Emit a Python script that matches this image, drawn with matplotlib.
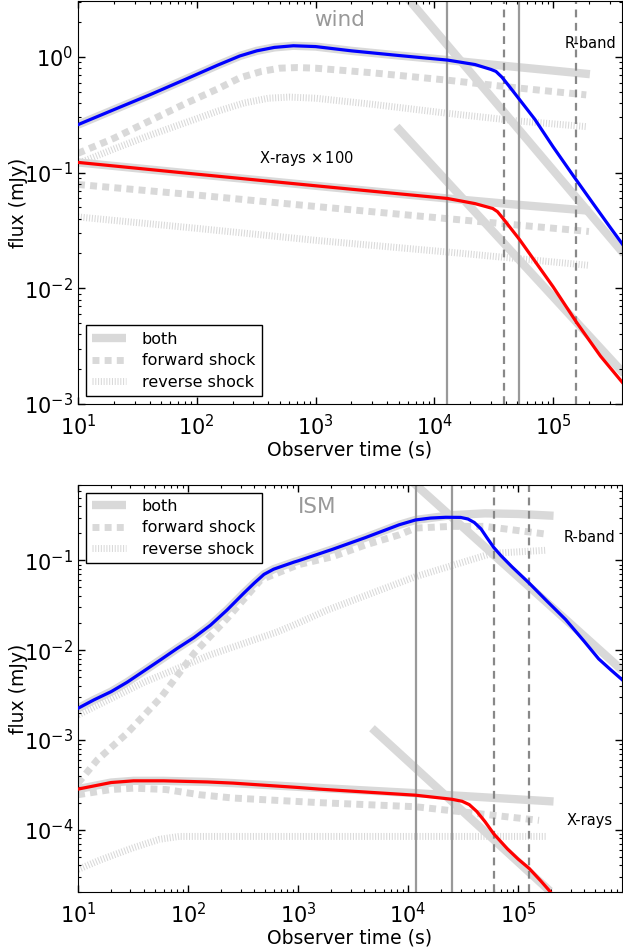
import matplotlib
matplotlib.use('Agg')
import matplotlib.pyplot as plt
from matplotlib.lines import Line2D

# ---------------- wind medium (top panel) ----------------
# R-band, full light curve
t_wind_R = [10, 20, 40, 80, 150, 230, 320, 450, 650, 1000, 2000, 5000, 1.29e4,
            2.2e4, 3.0e4, 3.3e4, 3.7e4, 4.2e4, 5.2e4, 7e4, 1e5, 1.5e5, 2.2e5, 3e5, 3.9e5]
f_wind_R = [0.26, 0.35, 0.47, 0.64, 0.85, 1.02, 1.13, 1.21, 1.25, 1.23, 1.13, 1.03, 0.94,
            0.86, 0.78, 0.75, 0.67, 0.57, 0.43, 0.29, 0.167, 0.092, 0.053, 0.034, 0.0235]
# "both" without the break (continued), and the late asymptote
t_wind_R_both = [10, 20, 40, 80, 150, 230, 320, 450, 650, 1000, 2000, 5000, 1.29e4, 3e4, 8e4, 2.04e5]
f_wind_R_both = [0.26, 0.35, 0.47, 0.64, 0.85, 1.02, 1.13, 1.21, 1.25, 1.23, 1.13, 1.03, 0.94, 0.86, 0.78, 0.71]
t_wind_R_late = [6.0e3, 4.0e5]
f_wind_R_late = [3.2, 0.0195]
t_wind_R_fs = [10, 20, 40, 80, 150, 230, 350, 500, 700, 1000, 3000, 1.29e4, 5e4, 1.9e5]
f_wind_R_fs = [0.147, 0.198, 0.28, 0.395, 0.53, 0.66, 0.75, 0.80, 0.81, 0.80, 0.73, 0.63, 0.54, 0.47]
t_wind_R_rs = [10, 20, 40, 80, 150, 250, 400, 600, 1000, 3000, 1.29e4, 5e4, 1.9e5]
f_wind_R_rs = [0.12, 0.16, 0.21, 0.27, 0.34, 0.40, 0.44, 0.45, 0.44, 0.39, 0.326, 0.28, 0.25]

# X-rays (x100)
t_wind_X = [10, 100, 1000, 1.29e4, 2.2e4, 3.1e4, 3.4e4, 3.8e4, 4.3e4, 5.2e4, 6.8e4, 1e5, 1.57e5, 2.5e5, 3.9e5]
f_wind_X = [0.1226, 0.097, 0.077, 0.0598, 0.054, 0.049, 0.046, 0.040, 0.034, 0.0265, 0.018, 0.0103, 0.0051,
            0.0026, 0.0015]
t_wind_X_both = [10, 100, 1000, 1.29e4, 5e4, 2.04e5]
f_wind_X_both = [0.1226, 0.097, 0.077, 0.0598, 0.0528, 0.0468]
t_wind_X_late = [4.8e3, 4.0e5]
f_wind_X_late = [0.25, 0.0018]
t_wind_X_fs = [10, 100, 1000, 1.29e4, 2e5]
f_wind_X_fs = [0.079, 0.064, 0.051, 0.040, 0.031]
t_wind_X_rs = [10, 100, 1000, 1.29e4, 2e5]
f_wind_X_rs = [0.0414, 0.033, 0.026, 0.0206, 0.0158]

t_wind_solid = [1.29e4, 5.2e4]
t_wind_dashed = [3.85e4, 1.57e5]

# ---------------- ISM (bottom panel) ----------------
t_ism_R = [10, 14, 20, 28, 40, 57, 80, 113, 160, 226, 320, 400, 490, 600, 750, 920, 1000, 2050, 4100,
           8300, 1.17e4, 1.6e4, 2.2e4, 3.0e4, 3.5e4, 4.0e4, 4.6e4, 5.2e4, 6e4, 7e4, 8.8e4, 1.26e5, 1.8e5,
           2.7e5, 4e5, 5.4e5, 7e5, 8.8e5]
f_ism_R = [2.25e-3, 2.8e-3, 3.45e-3, 4.4e-3, 5.9e-3, 7.9e-3, 0.0105, 0.0138, 0.019, 0.028, 0.043, 0.056,
           0.070, 0.080, 0.088, 0.096, 0.099, 0.133, 0.18, 0.25, 0.283, 0.297, 0.303, 0.302, 0.29, 0.265,
           0.225, 0.18, 0.14, 0.113, 0.085, 0.056, 0.036, 0.022, 0.0125, 8.0e-3, 6.0e-3, 4.7e-3]
t_ism_R_both = [10, 14, 20, 28, 40, 57, 80, 113, 160, 226, 320, 400, 490, 600, 750, 920, 1000, 2050, 4100,
                8300, 1.17e4, 2.5e4, 5e4, 1e5, 2.1e5]
f_ism_R_both = [2.25e-3, 2.8e-3, 3.45e-3, 4.4e-3, 5.9e-3, 7.9e-3, 0.0105, 0.0138, 0.019, 0.028, 0.043, 0.056,
                0.070, 0.080, 0.088, 0.096, 0.099, 0.133, 0.18, 0.25, 0.283, 0.32, 0.335, 0.33, 0.315]
t_ism_R_late = [1.1e4, 8.8e5]
f_ism_R_late = [0.75, 6.0e-3]
t_ism_R_fs = [10, 15, 28, 57, 114, 230, 460, 1000, 2050, 4100, 8300, 1.17e4, 2.5e4, 5e4, 1.9e5]
f_ism_R_fs = [3.3e-4, 6e-4, 1.19e-3, 3.0e-3, 9.3e-3, 0.023, 0.061, 0.0895, 0.11, 0.149, 0.193, 0.23, 0.24,
              0.24, 0.195]
t_ism_R_rs = [10, 40, 160, 650, 1000, 1840, 1.17e4, 5.8e4, 1.8e5]
f_ism_R_rs = [1.9e-3, 4.4e-3, 8.9e-3, 0.016, 0.020, 0.028, 0.066, 0.12, 0.13]

t_ism_X = [10, 20, 32, 60, 150, 257, 1000, 1550, 1.17e4, 2.5e4, 3.1e4, 3.6e4, 4.2e4, 5e4, 6e4, 8e4, 1e5,
           1.26e5, 1.6e5, 1.95e5]
f_ism_X = [2.83e-4, 3.35e-4, 3.5e-4, 3.5e-4, 3.4e-4, 3.3e-4, 2.95e-4, 2.83e-4, 2.42e-4, 2.18e-4, 2.07e-4,
           1.9e-4, 1.6e-4, 1.23e-4, 9.0e-5, 6.1e-5, 4.7e-5, 3.7e-5, 2.7e-5, 2.05e-5]
t_ism_X_both = [10, 20, 32, 60, 150, 257, 1000, 1.17e4, 2.1e5]
f_ism_X_both = [2.83e-4, 3.35e-4, 3.5e-4, 3.5e-4, 3.4e-4, 3.3e-4, 3.0e-4, 2.55e-4, 2.06e-4]
t_ism_X_late = [4.7e3, 1.95e5]
f_ism_X_late = [1.35e-3, 2.06e-5]
t_ism_X_fs = [10, 20, 32, 63, 127, 257, 513, 1550, 1.17e4, 1.55e5]
f_ism_X_fs = [2.45e-4, 2.8e-4, 2.9e-4, 2.8e-4, 2.45e-4, 2.25e-4, 2.15e-4, 2.0e-4, 1.8e-4, 1.27e-4]
t_ism_X_rs = [10, 16, 32, 55, 83, 200, 1000, 1e4, 1.8e5]
f_ism_X_rs = [3.6e-5, 4.6e-5, 6.3e-5, 7.8e-5, 8.4e-5, 8.4e-5, 8.4e-5, 8.4e-5, 8.4e-5]

t_ism_solid = [1.19e4, 2.52e4]
t_ism_dashed = [5.98e4, 1.26e5]

GRAY = '#d9d9d9'
both_kw = dict(color=GRAY, lw=6, solid_capstyle='butt', zorder=1)
fs_kw = dict(color=GRAY, lw=5, dashes=(1.0, 0.75), zorder=1)
rs_kw = dict(color=GRAY, lw=5, dashes=(0.15, 0.25), zorder=1)


def draw_panel(ax, t_R, f_R, t_Rb, f_Rb, t_Rl, f_Rl, t_Rfs, f_Rfs, t_Rrs, f_Rrs,
               t_X, f_X, t_Xb, f_Xb, t_Xl, f_Xl, t_Xfs, f_Xfs, t_Xrs, f_Xrs,
               solid, dashed):
    # thick grey components
    ax.plot(t_Rb, f_Rb, **both_kw)
    ax.plot(t_Rl, f_Rl, **both_kw)
    ax.plot(t_Rfs, f_Rfs, **fs_kw)
    ax.plot(t_Rrs, f_Rrs, **rs_kw)
    ax.plot(t_Xb, f_Xb, **both_kw)
    ax.plot(t_Xl, f_Xl, **both_kw)
    ax.plot(t_Xfs, f_Xfs, **fs_kw)
    ax.plot(t_Xrs, f_Xrs, **rs_kw)
    for t in solid:
        ax.axvline(t, color='#999999', lw=1.6, zorder=2)
    for t in dashed:
        ax.axvline(t, color='#888888', lw=1.6, ls=(0, (3.5, 2.5)), zorder=2)
    ax.plot(t_R, f_R, color='blue', lw=2.3, zorder=3)
    ax.plot(t_X, f_X, color='red', lw=2.3, zorder=3)
    ax.set_xscale('log')
    ax.set_yscale('log')
    ax.tick_params(which='both', direction='in', top=True, right=True, labelsize=15)
    ax.tick_params(which='major', length=5, width=1)
    ax.tick_params(which='minor', length=2.5, width=0.8)
    ax.tick_params(axis='x', which='major', pad=7)
    ax.set_xlabel('Observer time (s)', fontsize=13.5, labelpad=1)
    ax.set_ylabel('flux (mJy)', fontsize=13.5)
    ax.yaxis.set_label_coords(-0.092, 0.5)


legend_handles = [
    Line2D([], [], **both_kw),
    Line2D([], [], **fs_kw),
    Line2D([], [], **rs_kw),
]
legend_labels = ['both', 'forward shock', 'reverse shock']

fig = plt.figure(figsize=(6.23, 9.49), dpi=100)
ax1 = fig.add_axes([0.1252, 0.5743, 0.8732, 0.4247])
ax2 = fig.add_axes([0.1252, 0.0597, 0.8732, 0.4296])

draw_panel(ax1, t_wind_R, f_wind_R, t_wind_R_both, f_wind_R_both, t_wind_R_late, f_wind_R_late,
           t_wind_R_fs, f_wind_R_fs, t_wind_R_rs, f_wind_R_rs,
           t_wind_X, f_wind_X, t_wind_X_both, f_wind_X_both, t_wind_X_late, f_wind_X_late,
           t_wind_X_fs, f_wind_X_fs, t_wind_X_rs, f_wind_X_rs,
           t_wind_solid, t_wind_dashed)
ax1.set_xlim(10, 3.8e5)
ax1.set_ylim(1e-3, 3.05)
ax1.text(0.48, 0.952, 'wind', transform=ax1.transAxes, color='#999999', fontsize=15.5,
         ha='center', va='center')
ax1.text(0.943, 0.895, 'R-band', transform=ax1.transAxes, fontsize=10.5, ha='center', va='center')
ax1.text(0.42, 0.61, 'X-rays $\\times\\,$100', transform=ax1.transAxes, fontsize=10.5,
         ha='center', va='center')
ax1.legend(legend_handles, legend_labels, loc='lower left', fontsize=11.5, fancybox=False,
           edgecolor='black', framealpha=1, handlelength=2.1, handletextpad=1.0,
           labelspacing=0.4)

draw_panel(ax2, t_ism_R, f_ism_R, t_ism_R_both, f_ism_R_both, t_ism_R_late, f_ism_R_late,
           t_ism_R_fs, f_ism_R_fs, t_ism_R_rs, f_ism_R_rs,
           t_ism_X, f_ism_X, t_ism_X_both, f_ism_X_both, t_ism_X_late, f_ism_X_late,
           t_ism_X_fs, f_ism_X_fs, t_ism_X_rs, f_ism_X_rs,
           t_ism_solid, t_ism_dashed)
ax2.set_xlim(10, 8.8e5)
ax2.set_ylim(2e-5, 0.7)
ax2.text(0.44, 0.945, 'ISM', transform=ax2.transAxes, color='#999999', fontsize=15.5,
         ha='center', va='center')
ax2.text(0.94, 0.87, 'R-band', transform=ax2.transAxes, fontsize=10.5, ha='center', va='center')
ax2.text(0.94, 0.176, 'X-rays', transform=ax2.transAxes, fontsize=10.5, ha='center', va='center')
ax2.legend(legend_handles, legend_labels, loc='upper left', fontsize=11.5, fancybox=False,
           edgecolor='black', framealpha=1, handlelength=2.1, handletextpad=1.0,
           labelspacing=0.4)

fig.savefig('out.png', dpi=100)
